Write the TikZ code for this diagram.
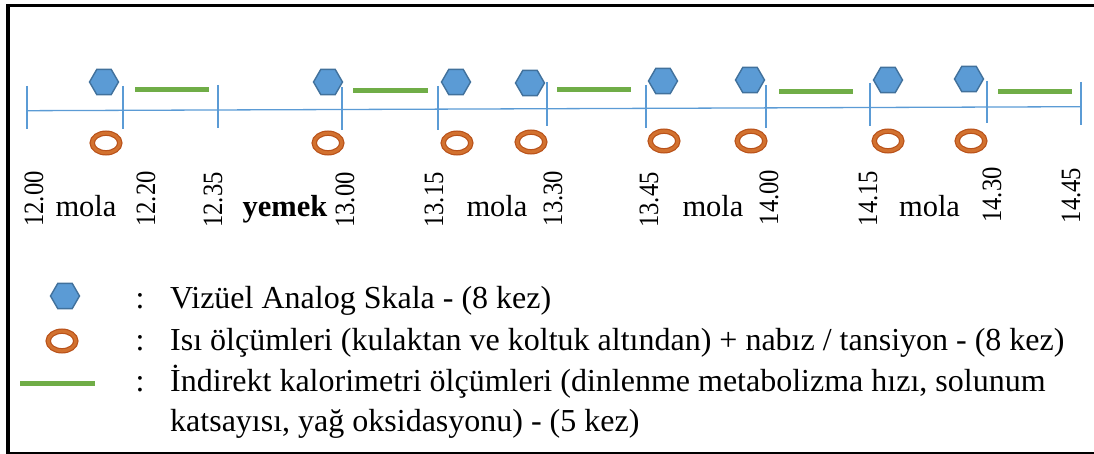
\documentclass[tikz,border=0pt]{standalone}
\usepackage{fontspec}
\setmainfont{Liberation Serif}
\usetikzlibrary{shapes.geometric}

\definecolor{vasfill}{HTML}{5B9BD5}
\definecolor{vasedge}{HTML}{41719C}
\definecolor{axisblue}{HTML}{5B9BD5}
\definecolor{ringout}{HTML}{B9521A}
\definecolor{ringin}{HTML}{D2712F}
\definecolor{calgreen}{HTML}{70AD47}

\tikzset{
  vas/.style={regular polygon, regular polygon sides=6, minimum size=29pt,
    inner sep=0pt, fill=vasfill, draw=vasedge, line width=1.4pt},
  temp/.style={ellipse, minimum width=27.6pt, minimum height=19.6pt, inner sep=0pt,
    draw=ringout, line width=1.2pt, double=ringin, double distance=3pt},
  calbar/.style={draw=calgreen, line width=5pt},
  axisline/.style={draw=axisblue, line width=1.3pt},
  ticktime/.style={rotate=90, anchor=base, inner sep=0pt,
    font=\fontsize{28}{30}\selectfont},
  phase/.style={anchor=base, inner sep=0pt, font=\fontsize{30.5}{34}\selectfont},
  legendtext/.style={anchor=base west, inner sep=0pt, font=\fontsize{32}{36}\selectfont},
  legendcolon/.style={anchor=base, inner sep=0pt, font=\fontsize{32}{36}\selectfont},
  frame/.style={draw=black, line width=3.2pt}
}

\newcommand{\tlabel}[1]{\scalebox{0.88}[1]{#1}}

\begin{document}
\begin{tikzpicture}[x=1pt, y=-1pt]
  \useasboundingbox (0,0) rectangle (1094,454);
  \clip (0,0) rectangle (1094,454);

  % outer frame (continues past the right edge)
  \draw[frame] (8,5.5) rectangle (1120,453.5);

  % time axis
  \coordinate (a0) at (27,110.7);
  \coordinate (a1) at (1081,106.7);
  \draw[axisline] (a0) -- (a1);

  % tick marks
  \foreach \n/\x/\top/\bot in {0/27/86/129, 1/123/86/129, 2/218/85/128, 3/342/87/130,
      4/438/86/130, 5/547/82/126, 6/646/85/128, 7/766/85/128, 8/870/83/126,
      9/987/81/123, 10/1081/82/125} {
    \coordinate (tt\n) at (\x,\top);
    \coordinate (tb\n) at (\x,\bot);
    \draw[axisline] (tt\n) -- (tb\n);
  }

  % visual analogue scale marks
  \node[vas] (v1) at (104,82) {};
  \node[vas] (v2) at (328,82) {};
  \node[vas] (v3) at (456,82) {};
  \node[vas] (v4) at (530,83) {};
  \node[vas] (v5) at (663,81) {};
  \node[vas] (v6) at (750,80) {};
  \node[vas] (v7) at (888,80) {};
  \node[vas] (v8) at (969,79) {};

  % temperature / pulse / blood pressure marks
  \node[temp] (t1) at (106,143) {};
  \node[temp] (t2) at (328,143) {};
  \node[temp] (t3) at (457,143) {};
  \node[temp] (t4) at (531,142) {};
  \node[temp] (t5) at (664,141) {};
  \node[temp] (t6) at (751,141) {};
  \node[temp] (t7) at (888,141) {};
  \node[temp] (t8) at (971,141) {};

  % indirect calorimetry periods
  \foreach \n/\xa/\xb/\y in {1/135/209/90, 2/353/428/91, 3/557/631/90,
      4/779/853/92, 5/998/1072/92} {
    \coordinate (cs\n) at (\xa,\y);
    \coordinate (ce\n) at (\xb,\y);
    \draw[calbar] (cs\n) -- (ce\n);
  }

  % clock times
  \node[ticktime] (h0)  at (43,199)    {\tlabel{12.00}};
  \node[ticktime] (h1)  at (155,199)   {\tlabel{12.20}};
  \node[ticktime] (h2)  at (222,200)   {\tlabel{12.35}};
  \node[ticktime] (h3)  at (354,200)   {\tlabel{13.00}};
  \node[ticktime] (h4)  at (443,200)   {\tlabel{13.15}};
  \node[ticktime] (h5)  at (562,198.5) {\tlabel{13.30}};
  \node[ticktime] (h6)  at (658,200)   {\tlabel{13.45}};
  \node[ticktime] (h7)  at (778,197.5) {\tlabel{14.00}};
  \node[ticktime] (h8)  at (877,198.5) {\tlabel{14.15}};
  \node[ticktime] (h9)  at (1001,195)  {\tlabel{14.30}};
  \node[ticktime] (h10) at (1080,195.5){\tlabel{14.45}};

  % breaks and meal
  \node[phase] (p1) at (86,217)  {mola};
  \node[phase] (p2) at (285,217) {\textbf{yemek}};
  \node[phase] (p3) at (497,217) {mola};
  \node[phase] (p4) at (713,217) {mola};
  \node[phase] (p5) at (929.5,217) {mola};

  % legend
  \node[vas] (lv) at (65,296) {};
  \node[temp] (lt) at (62,341) {};
  \coordinate (lcs) at (20,383);
  \coordinate (lce) at (95,383);
  \draw[calbar] (lcs) -- (lce);

  \node[legendcolon] (c1) at (140,308) {:};
  \node[legendcolon] (c2) at (140,350) {:};
  \node[legendcolon] (c3) at (140,391) {:};

  \node[legendtext] (l1) at (170,308) {Vizüel Analog Skala - (8 kez)};
  \node[legendtext] (l2) at (170,350) {Isı ölçümleri (kulaktan ve koltuk altından) + nabız / tansiyon - (8 kez)};
  \node[legendtext] (l3) at (170,391) {İndirekt kalorimetri ölçümleri (dinlenme metabolizma hızı, solunum};
  \node[legendtext] (l4) at (170,431) {katsayısı, yağ oksidasyonu) - (5 kez)};
\end{tikzpicture}
\end{document}
